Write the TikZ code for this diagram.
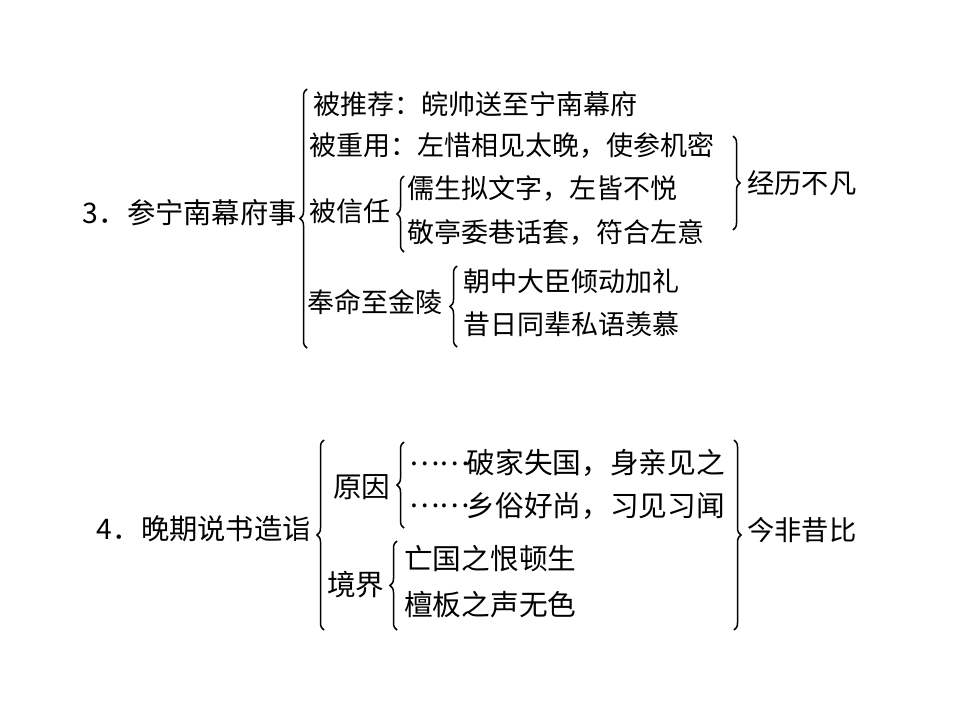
\documentclass[tikz,border=0pt]{standalone}
\usepackage{fontspec}
\setmainfont{Noto Sans CJK SC}
\usetikzlibrary{decorations.pathreplacing}
\newcommand{\midellip}{\makebox[2em][l]{\raisebox{0.3em}{……}}}
\begin{document}
\begin{tikzpicture}[x=1pt,y=-1pt,
  txt/.style={anchor=west,inner sep=0pt,font=\fontsize{27}{30}\selectfont},
  txtb/.style={anchor=west,inner sep=0pt,font=\fontsize{28.7}{32}\selectfont},
  lbl/.style={anchor=west,inner sep=0pt,font=\fontsize{27.3}{30}\selectfont},
  root/.style={anchor=east,inner sep=0pt,font=\fontsize{28.3}{32}\selectfont},
  brc/.style={decorate,decoration={brace,amplitude=7pt},line width=1.5pt},
]
\useasboundingbox[fill=white] (0,0) rectangle (960,720);

% ---------- Section 3 ----------
\node[root] (r3) at (297,213) {3．参宁南幕府事};
\coordinate (b3t) at (307,89);
\coordinate (b3b) at (307,348);
\draw[brc] (b3b) -- (b3t);

\node[txt] (a1) at (313,104) {被推荐：皖帅送至宁南幕府};
\node[txt] (a2) at (309,145) {被重用：左惜相见太晚，使参机密};
\node[txt] (a3) at (309,211) {被信任};
\coordinate (b31t) at (404,176);
\coordinate (b31b) at (404,252);
\draw[brc] (b31b) -- (b31t);
\node[txt] (a31) at (407,189) {儒生拟文字，左皆不悦};
\node[txt] (a32) at (407,232) {敬亭委巷话套，符合左意};

\node[txt] (a4) at (307,302) {奉命至金陵};
\coordinate (b32t) at (457,266);
\coordinate (b32b) at (457,347);
\draw[brc] (b32b) -- (b32t);
\node[txt] (a41) at (463,281) {朝中大臣倾动加礼};
\node[txt] (a42) at (463,324) {昔日同辈私语羡慕};

\coordinate (b3rt) at (733,136);
\coordinate (b3rb) at (733,230);
\draw[brc] (b3rt) -- (b3rb);
\node[lbl] (c3) at (747,183) {经历不凡};

% ---------- Section 4 ----------
\node[root] (r4) at (311,529) {4．晚期说书造诣};
\coordinate (b4t) at (324,440);
\coordinate (b4b) at (324,630);
\draw[brc] (b4b) -- (b4t);

\node[txtb] (d1) at (333,487) {原因};
\coordinate (b41t) at (404,442);
\coordinate (b41b) at (404,528);
\draw[brc] (b41b) -- (b41t);
\node[txtb] (d11) at (409,463) {\midellip 破家失国，身亲见之};
\node[txtb] (d12) at (409,506) {\midellip 乡俗好尚，习见习闻};

\node[txtb] (d2) at (327,585) {境界};
\coordinate (b42t) at (397,541);
\coordinate (b42b) at (397,630);
\draw[brc] (b42b) -- (b42t);
\node[txtb] (d21) at (404,559) {亡国之恨顿生};
\node[txtb] (d22) at (404,605) {檀板之声无色};

\coordinate (b4rt) at (734,440);
\coordinate (b4rb) at (734,630);
\draw[brc] (b4rt) -- (b4rb);
\node[lbl] (c4) at (747,530) {今非昔比};
\end{tikzpicture}
\end{document}
